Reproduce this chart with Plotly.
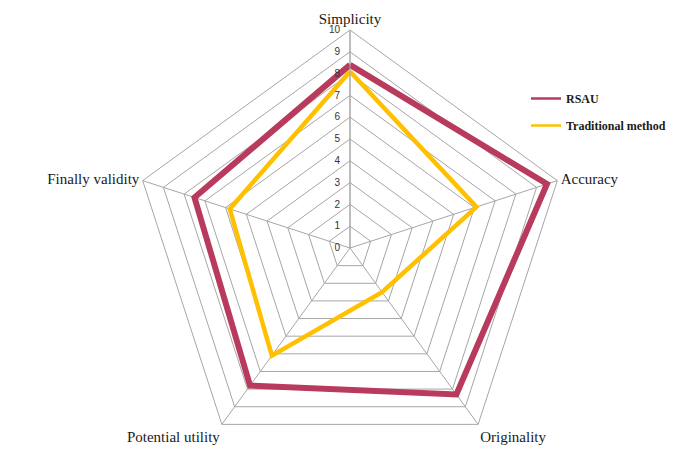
import plotly.graph_objects as go

categories = ["Simplicity", "Accuracy", "Originality", "Potential utility", "Finally validity"]
rsau = [8.4, 9.5, 8.3, 7.8, 7.5]
traditional = [8.1, 6.1, 2.5, 6.1, 5.8]
radial_ticks = list(range(0, 11))

W, H = 697, 458
mt, mb = 22, 0
ph = H - mt - mb
cx = 342
half = ph / 2

RED = "#B83B5E"
GOLD = "#FFC000"

fig = go.Figure()
fig.add_trace(go.Scatterpolar(
    r=rsau + rsau[:1], theta=categories + categories[:1],
    mode="lines", name="RSAU", showlegend=False,
    line=dict(color=RED, width=6),
))
fig.add_trace(go.Scatterpolar(
    r=traditional + traditional[:1], theta=categories + categories[:1],
    mode="lines", name="Traditional method", showlegend=False,
    line=dict(color=GOLD, width=4.5),
))
# legend entries (thin line symbols as in the reference)
fig.add_trace(go.Scatterpolar(
    r=[None], theta=[None], mode="lines", name="RSAU", legendgroup="a",
    line=dict(color=RED, width=2.5),
))
fig.add_trace(go.Scatterpolar(
    r=[None], theta=[None], mode="lines", name="Traditional method", legendgroup="b",
    line=dict(color=GOLD, width=2.5),
))

fig.update_layout(
    width=W, height=H,
    margin=dict(l=0, r=0, t=mt, b=mb),
    paper_bgcolor="white",
    showlegend=True,
    legend=dict(
        x=518 / W, y=(H - 76) / ph, xanchor="left", yanchor="top",
        font=dict(family="Liberation Serif", size=12, color="#1a1a1a", weight="bold"),
        bgcolor="rgba(0,0,0,0)", tracegroupgap=8, itemwidth=30,
    ),
    polar=dict(
        domain=dict(x=[(cx - half) / W, (cx + half) / W], y=[0, 1]),
        gridshape="linear",
        bgcolor="white",
        radialaxis=dict(
            range=[0, 10], tickvals=radial_ticks, ticktext=[str(v) for v in radial_ticks],
            angle=90, tickangle=90, side="counterclockwise",
            showline=True, linecolor="#A6A6A6", linewidth=1,
            gridcolor="#A6A6A6", gridwidth=1,
            ticks="outside", ticklen=6, tickcolor="rgba(0,0,0,0)",
            tickfont=dict(family="Liberation Sans", size=10, color="#333333"),
        ),
        angularaxis=dict(
            direction="clockwise", rotation=90,
            showline=True, linecolor="#A6A6A6", linewidth=1,
            gridcolor="#A6A6A6", gridwidth=1, ticks="",
            tickfont=dict(family="Liberation Serif", size=15, color="#1a1a1a"),
        ),
    ),
)

fig.write_html("out.html")
